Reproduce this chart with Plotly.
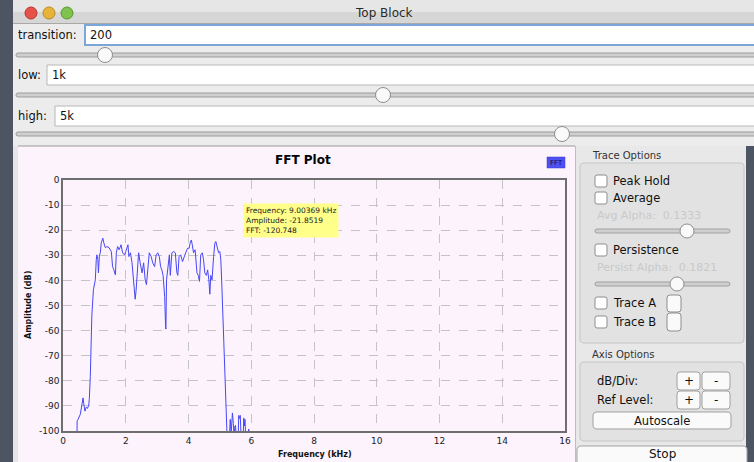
import plotly.graph_objects as go

# ---------------- data ----------------
freq_khz = [0.00, 0.44, 0.45, 0.48, 0.55, 0.60, 0.64, 0.66, 0.70, 0.74, 0.78, 0.82, 0.84, 0.87,
            0.89, 0.92, 0.97, 1.03, 1.06, 1.08, 1.11, 1.13, 1.16, 1.19, 1.22, 1.27, 1.30, 1.35,
            1.40, 1.47, 1.54, 1.58, 1.62, 1.67, 1.70, 1.74, 1.79, 1.85, 1.90, 1.96, 2.00, 2.07,
            2.10, 2.15, 2.20, 2.25, 2.28, 2.30, 2.33, 2.36, 2.41, 2.46, 2.52, 2.57, 2.62, 2.66,
            2.71, 2.75, 2.81, 2.86, 2.92, 2.97, 3.02, 3.07, 3.11, 3.15, 3.19, 3.24, 3.27, 3.28,
            3.30, 3.35, 3.39, 3.42, 3.47, 3.53, 3.58, 3.63, 3.66, 3.70, 3.75, 3.81, 3.86, 3.91,
            3.97, 4.02, 4.05, 4.09, 4.12, 4.16, 4.21, 4.27, 4.31, 4.35, 4.39, 4.44, 4.48, 4.52,
            4.57, 4.61, 4.65, 4.68, 4.71, 4.75, 4.80, 4.84, 4.87, 4.92, 4.96, 5.00, 5.03, 5.06,
            5.10, 5.12, 5.14, 5.19, 5.22, 5.24, 5.30, 5.33, 5.36, 5.40, 5.43, 5.45, 5.48, 5.50,
            5.52, 5.58, 5.60, 5.63, 5.65, 5.68, 5.74, 5.76, 5.78, 5.80, 5.83, 5.91, 5.92, 5.93,
            6.00, 16.00]
amplitude_db = [-115, -115, -96, -95.4, -93.4, -90.5, -86.8, -89, -92.1, -90.5, -91, -89.7, -87, -78.2,
                -63.6, -53.7, -43.7, -39.8, -31.8, -29.8, -31.8, -37, -30, -29, -25, -23.2, -25, -27,
                -26.5, -27, -28.5, -34.5, -35.8, -37.8, -29, -26.5, -27.8, -25.8, -29, -29.8, -28.5, -25.8,
                -30.5, -29, -33, -39.8, -44, -47.5, -44, -37, -29, -33, -37, -33, -39.8, -41.7,
                -33, -29, -30.5, -33, -34.5, -29.8, -29, -30.5, -34.5, -35.8, -38, -46.4, -58.5, -59.4,
                -39.8, -33, -29.8, -38, -29, -28.5, -29, -37, -38, -30.5, -29.8, -32.5, -30.5, -29,
                -27.2, -27.2, -25.2, -23.9, -25.8, -29, -27.8, -37, -38, -40.4, -29.8, -29, -31.8, -37,
                -38, -35.8, -39.8, -45.5, -38, -39.8, -30.5, -25.2, -24.5, -27.2, -29, -28.5, -31.8, -41,
                -55, -63, -71.6, -88.8, -99.4, -106, -104, -95.4, -101, -92.8, -97, -102, -98, -97.8,
                -104, -105, -93.8, -95, -93.8, -104, -104, -94.8, -98, -95.4, -105, -105, -99.2, -105,
                -110, -115]

x_ticks = [0, 2, 4, 6, 8, 10, 12, 14, 16]
y_ticks = [0, -10, -20, -30, -40, -50, -60, -70, -80, -90, -100]

tooltip_lines = ["Frequency: 9.00369 kHz", "Amplitude: -21.8519", "FFT: -120.748"]
slider_fields = [("transition:", "200"), ("low:", "1k"), ("high:", "5k")]

# ---------------- geometry helpers ----------------
W, H = 754, 462
L, R, T, B = 63, 565, 180, 431


def px(x):
    return (x - L) / (R - L)


def py(y):
    return (B - y) / (B - T)


shapes = []
annotations = []
FONT = "DejaVu Sans"


def rect(x0, y0, x1, y1, fill, line="rgba(0,0,0,0)", lw=0, layer="below"):
    shapes.append(dict(type="rect", xref="paper", yref="paper", x0=px(x0), x1=px(x1),
                       y0=py(y1), y1=py(y0), fillcolor=fill, layer=layer,
                       line=dict(color=line, width=lw)))


def rrect(x0, y0, x1, y1, r, fill, line, lw=1, layer="above"):
    def P(x, y):
        return f"{px(x):.5f},{py(y):.5f}"
    path = (f"M {P(x0 + r, y0)} L {P(x1 - r, y0)} Q {P(x1, y0)} {P(x1, y0 + r)} "
            f"L {P(x1, y1 - r)} Q {P(x1, y1)} {P(x1 - r, y1)} L {P(x0 + r, y1)} "
            f"Q {P(x0, y1)} {P(x0, y1 - r)} L {P(x0, y0 + r)} Q {P(x0, y0)} {P(x0 + r, y0)} Z")
    shapes.append(dict(type="path", xref="paper", yref="paper", path=path, fillcolor=fill,
                       layer=layer, line=dict(color=line, width=lw)))


def circle(cx, cy, r, fill, line, lw=1, layer="above"):
    shapes.append(dict(type="circle", xref="paper", yref="paper", x0=px(cx - r), x1=px(cx + r),
                       y0=py(cy + r), y1=py(cy - r), fillcolor=fill, layer=layer,
                       line=dict(color=line, width=lw)))


def hline(x0, x1, y, color, lw=1, layer="below"):
    shapes.append(dict(type="line", xref="paper", yref="paper", x0=px(x0), x1=px(x1),
                       y0=py(y), y1=py(y), layer=layer, line=dict(color=color, width=lw)))


def vline(x, y0, y1, color, lw=1, layer="below"):
    shapes.append(dict(type="line", xref="paper", yref="paper", x0=px(x), x1=px(x),
                       y0=py(y0), y1=py(y1), layer=layer, line=dict(color=color, width=lw)))


def text(x, y, s, size=12, color="#111", xanchor="left", bold=False, family=FONT, angle=0):
    if bold:
        s = f"<b>{s}</b>"
    annotations.append(dict(xref="paper", yref="paper", x=px(x), y=py(y), text=s,
                            showarrow=False, xanchor=xanchor, yanchor="middle",
                            font=dict(size=size, color=color, family=family), textangle=angle))


# ---------------- window chrome ----------------
rect(13, 0, W, 146, "#ECECEC")
rect(13, 0, W, 12, "#E6E6E6")
rect(13, 12, W, 23, "#D6D6D6")
hline(13, W, 23.5, "#A8A8A8")
text(384, 13, "Top Block", size=12, color="#2a2a2a", xanchor="center")
for cx, col, ln in [(31, "#E5524C", "#B8322E"), (49, "#E8B33A", "#B88A22"), (67, "#7FC24E", "#58982E")]:
    circle(cx, 13, 6, col, ln, 1, layer="below")

field_rows = [(35, 85, 105), (75, 47, 383), (116, 55, 562)]
for (lab, val), (yc, fx, knob) in zip(slider_fields, field_rows):
    text(16, yc, lab, size=11.5, color="#111")
    edge = "#7AA6DA" if lab == "transition:" else "#B8B8B8"
    rect(fx, yc - 10, W + 2, yc + 10, "#FFFFFF", edge, 2 if lab == "transition:" else 1)
    text(fx + 3, yc, val, size=11.5, color="#111")
    ys = yc + 20 if lab != "high:" else yc + 18
    rrect(16, ys - 2, W + 5, ys + 2, 2, "#CFCFCF", "#9C9C9C", 1, layer="below")
    circle(knob, ys, 7.5, "#FAFAFA", "#8E8E8E", 1)

# ---------------- plot panel ----------------
rect(13, 146, 18, H, "#E6E6E6")
rect(18, 146, 575, H, "#FCF3FC")
hline(18, 575, 146, "#9A9A9A", 1)
rect(575, 146, 746, H, "#E8E8E8")
vline(575.5, 146, H, "#BDBDBD", 1)
rect(746, 146, W, H, "#4E5562")

text(303, 160, "FFT Plot", size=12, bold=True, color="#000", xanchor="center")
rect(547, 157, 565, 168, "#4F4FF2", "#3A3AD0", 0.5, layer="above")
text(556, 162.5, "FFT", size=7, color="#101050", xanchor="center")
text(28, 305, "Amplitude (dB)", size=8, bold=True, color="#111", xanchor="center", angle=-90)
text(315, 454, "Frequency (kHz)", size=8, bold=True, color="#111", xanchor="center")

annotations.append(dict(xref="paper", yref="paper", x=px(243), y=py(203),
                        text="<br>".join(tooltip_lines), showarrow=False, xanchor="left",
                        yanchor="top", align="left", bgcolor="#FFFF8A", borderpad=2,
                        font=dict(size=7.5, color="#222", family=FONT)))

# ---------------- right control panel ----------------
text(590, 155, "Trace Options", size=10, color="#333")
rrect(580, 163, 744, 343, 4, "#E2E2E2", "#C6C6C6", 1, layer="below")
for yc, lab in [(181, "Peak Hold"), (198, "Average"), (250, "Persistence"), (303, "Trace A"), (322, "Trace B")]:
    rrect(595, yc - 6, 607, yc + 6, 2, "#FFFFFF", "#8E8E8E", 1)
    text(611, yc, lab, size=11.5, color="#111")
text(595, 215, "Avg Alpha:  0.1333", size=11, color="#C9C9C9")
text(595, 267, "Persist Alpha:  0.1821", size=11, color="#C9C9C9")
for ys, knob in [(231, 687), (284, 677)]:
    rrect(595, ys - 2, 730, ys + 2, 2, "#CFCFCF", "#A0A0A0", 1, layer="below")
    circle(knob, ys, 7, "#FAFAFA", "#8E8E8E", 1)
rrect(667, 295, 681, 312, 3, "#FAFAFA", "#8E8E8E", 1)
rrect(667, 313, 681, 331, 3, "#FAFAFA", "#8E8E8E", 1)

text(590, 354, "Axis Options", size=10, color="#333")
rrect(580, 362, 744, 441, 4, "#E2E2E2", "#C6C6C6", 1, layer="below")
for yc, lab in [(381, "dB/Div:"), (400, "Ref Level:")]:
    text(595, yc, lab, size=11.5, color="#111")
    rrect(677, yc - 9, 700, yc + 9, 3, "#FAFAFA", "#A0A0A0", 1)
    rrect(702, yc - 9, 730, yc + 9, 3, "#FAFAFA", "#A0A0A0", 1)
    text(688.5, yc, "+", size=12, color="#111", xanchor="center")
    text(716, yc, "-", size=12, color="#111", xanchor="center")
rrect(593, 412, 731, 429, 4, "#FAFAFA", "#A0A0A0", 1)
text(662, 420.5, "Autoscale", size=11.5, color="#111", xanchor="center")
rrect(577, 446, 747, 470, 4, "#FAFAFA", "#A0A0A0", 1)
text(662, 454, "Stop", size=12, color="#111", xanchor="center")

# ---------------- figure ----------------
fig = go.Figure()
fig.add_trace(go.Scatter(x=freq_khz, y=amplitude_db, mode="lines",
                         line=dict(color="#4747F5", width=1), hoverinfo="skip", showlegend=False))

fig.update_layout(
    width=W, height=H, autosize=False,
    margin=dict(l=L, r=W - R, t=T, b=H - B, pad=0),
    paper_bgcolor="#4E5562", plot_bgcolor="#FCF3FC",
    shapes=shapes, annotations=annotations, showlegend=False,
    font=dict(family=FONT, size=9, color="#222"),
)
fig.update_xaxes(range=[0, 16], tickvals=x_ticks, ticktext=[str(v) for v in x_ticks],
                 showgrid=True, gridcolor="#C4C4C4", griddash="dash", gridwidth=1,
                 showline=True, mirror=True, linecolor="#6E6E6E", linewidth=1.5,
                 zeroline=False, ticks="", tickfont=dict(size=9, color="#222"), fixedrange=True)
fig.update_yaxes(range=[-100, 0], tickvals=y_ticks, ticktext=[str(v) for v in y_ticks],
                 showgrid=True, gridcolor="#C4C4C4", griddash="dash", gridwidth=1,
                 showline=True, mirror=True, linecolor="#6E6E6E", linewidth=1.5,
                 zeroline=False, ticks="", tickfont=dict(size=9, color="#222"), fixedrange=True)

fig.write_html(
    "out.html",
    config={"displayModeBar": False},
    post_script="document.body.style.margin='0';document.body.style.padding='0';"
                "document.body.style.overflow='hidden';",
)
